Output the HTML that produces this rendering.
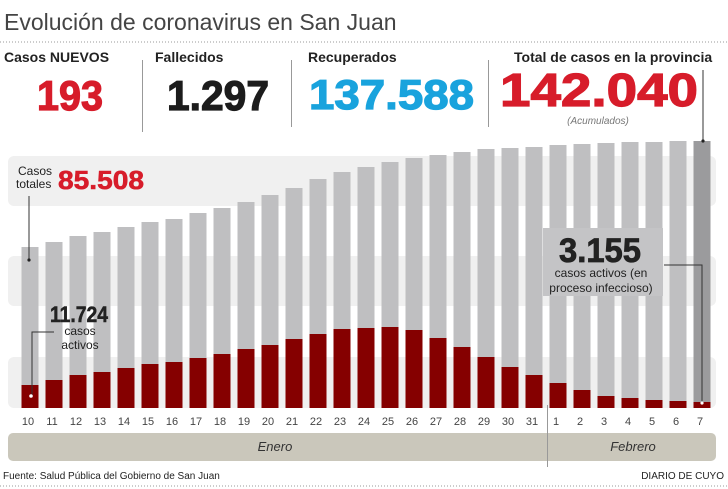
<!DOCTYPE html>
<html><head><meta charset="utf-8"><style>
html,body{margin:0;padding:0;background:#fff}
svg{display:block}
text{font-family:"Liberation Sans",sans-serif}
</style></head><body>
<svg width="728" height="489" viewBox="0 0 728 489" xmlns="http://www.w3.org/2000/svg">
<text x="4" y="30" font-size="23" fill="#444">Evolución de coronavirus en San Juan</text>
<line x1="0" y1="42" x2="728" y2="42" stroke="#999" stroke-dasharray="1 2"/>
<g font-weight="bold" font-size="14" fill="#222">
<text x="4" y="62">Casos NUEVOS</text>
<text x="155" y="62">Fallecidos</text>
<text x="308" y="62">Recuperados</text>
<text x="514" y="62">Total de casos en la provincia</text>
</g>
<g stroke="#999" stroke-width="1">
<line x1="142.5" y1="60" x2="142.5" y2="132"/>
<line x1="291.5" y1="60" x2="291.5" y2="127"/>
<line x1="488.5" y1="60" x2="488.5" y2="127"/>
</g>
<g font-weight="bold" font-size="42" stroke-width="1.2">
<text x="37" y="110" fill="#d71c2a" stroke="#d71c2a" textLength="66" lengthAdjust="spacingAndGlyphs">193</text>
<text x="167" y="110" fill="#1c1c1c" stroke="#1c1c1c" textLength="102" lengthAdjust="spacingAndGlyphs">1.297</text>
<text x="309" y="109" fill="#19a3dd" stroke="#19a3dd" textLength="165" lengthAdjust="spacingAndGlyphs">137.588</text>
<text x="500" y="106" font-size="46" fill="#d71c2a" stroke="#d71c2a" textLength="198" lengthAdjust="spacingAndGlyphs">142.040</text>
</g>
<text x="598" y="124" font-size="10" font-style="italic" fill="#777" text-anchor="middle">(Acumulados)</text>
<g fill="#f0f0f0">
<rect x="8" y="156" width="708" height="50" rx="6"/>
<rect x="8" y="256" width="708" height="50" rx="6"/>
<rect x="8" y="357" width="708" height="51" rx="6"/>
</g>
<g id="bars"></g>
<line x1="703" y1="70" x2="703" y2="141" stroke="#333"/>
<circle cx="703" cy="141" r="1.6" fill="#222"/>
<text x="18" y="175" font-size="12" fill="#222">Casos</text>
<text x="16" y="188" font-size="12" fill="#222">totales</text>
<text x="58" y="189" font-size="26" font-weight="bold" fill="#d71c2a" stroke="#d71c2a" stroke-width="0.6" textLength="86" lengthAdjust="spacingAndGlyphs">85.508</text>
<line x1="29" y1="196" x2="29" y2="260" stroke="#333"/>
<circle cx="29" cy="260" r="1.6" fill="#222"/>
<text x="50" y="322" font-size="22" font-weight="bold" fill="#222" stroke="#222" stroke-width="0.5" textLength="58" lengthAdjust="spacingAndGlyphs">11.724</text>
<text x="80" y="335" font-size="12" fill="#222" text-anchor="middle">casos</text>
<text x="80" y="349" font-size="12" fill="#222" text-anchor="middle">activos</text>
<polyline points="54,332 32,332 32,396" fill="none" stroke="#333"/>
<circle cx="31" cy="396" r="1.8" fill="#fff"/>
<rect x="543" y="228" width="120" height="68" fill="#c4c4c6"/>
<text x="600" y="262" font-size="34" font-weight="bold" fill="#222" stroke="#222" stroke-width="0.8" text-anchor="middle" textLength="82" lengthAdjust="spacingAndGlyphs">3.155</text>
<text x="601" y="277" font-size="12" fill="#222" text-anchor="middle">casos activos (en</text>
<text x="601" y="292" font-size="12" fill="#222" text-anchor="middle">proceso infeccioso)</text>
<polyline points="664,265 702,265 702,403" fill="none" stroke="#333"/>
<circle cx="702" cy="403" r="1.6" fill="#fff"/>
<g id="labels" font-size="11" fill="#444" text-anchor="middle"></g>
<rect x="8" y="433" width="708" height="28" rx="5" fill="#cac7bb"/>
<text x="275" y="451" font-size="13" font-style="italic" fill="#333" text-anchor="middle">Enero</text>
<text x="633" y="451" font-size="13" font-style="italic" fill="#333" text-anchor="middle">Febrero</text>
<line x1="547.5" y1="405" x2="547.5" y2="467" stroke="#999"/>
<text x="3" y="479" font-size="10" fill="#222">Fuente: Salud Pública del Gobierno de San Juan</text>
<text x="724" y="479" font-size="10" fill="#222" text-anchor="end">DIARIO DE CUYO</text>
<line x1="0" y1="486" x2="728" y2="486" stroke="#999" stroke-dasharray="1 2"/>
</svg>
<script>
var g=[247,242,236,232,227,222,219,213,208,202,195,188,179,172,167,162,158,155,152,149,148,147,145,144,143,142,142,141,141];
var r=[385,380,375,372,368,364,362,358,354,349,345,339,334,329,328,327,330,338,347,357,367,375,383,390,396,398,400,401,402];
var lab=[10,11,12,13,14,15,16,17,18,19,20,21,22,23,24,25,26,27,28,29,30,31,1,2,3,4,5,6,7];
var ns="http://www.w3.org/2000/svg",B=document.getElementById("bars"),L=document.getElementById("labels");
for(var i=0;i<29;i++){var cx=30+i*24,w=17;
var a=document.createElementNS(ns,"rect");a.setAttribute("x",cx-w/2);a.setAttribute("y",g[i]);a.setAttribute("width",w);a.setAttribute("height",408-g[i]);a.setAttribute("fill",i==28?"#9b9b9d":"#bfbfc1");B.appendChild(a);
var b=document.createElementNS(ns,"rect");b.setAttribute("x",cx-w/2);b.setAttribute("y",r[i]);b.setAttribute("width",w);b.setAttribute("height",408-r[i]);b.setAttribute("fill","#850000");B.appendChild(b);
var t=document.createElementNS(ns,"text");t.setAttribute("x",cx-2);t.setAttribute("y",425);t.textContent=lab[i];L.appendChild(t);}
</script>
</body></html>
